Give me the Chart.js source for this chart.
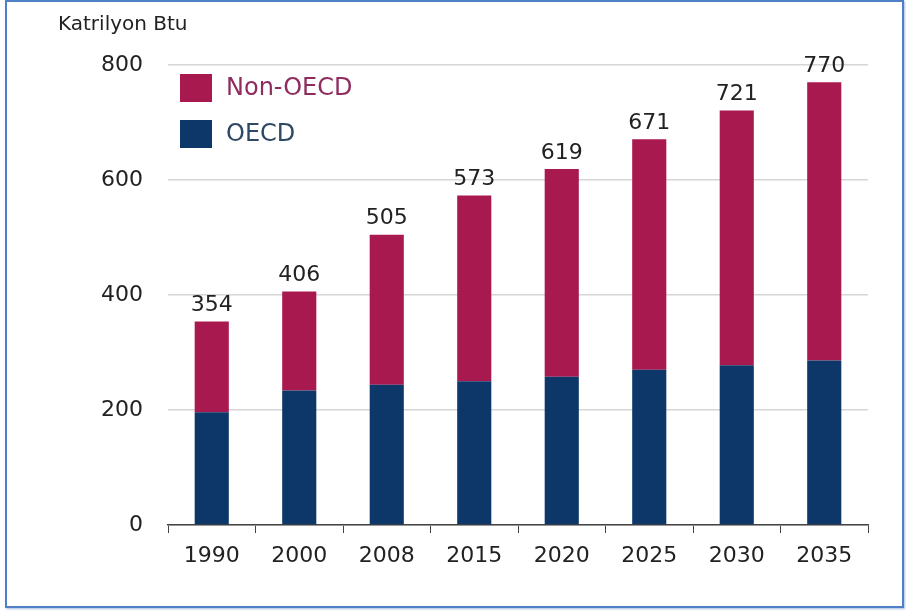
<!DOCTYPE html>
<html>
<head>
<meta charset="utf-8">
<script src="https://cdn.jsdelivr.net/npm/chart.js@4/dist/chart.umd.min.js"></script>
<style>
  html, body { margin: 0; padding: 0; background: #fff; }
  #wrap { position: relative; width: 906px; height: 612px; }
  #frame { position: absolute; left: 5px; top: 0px; width: 895px; height: 604px; border: 2px solid #4f80c6; box-shadow: 1px 1px 2px rgba(79,128,198,0.5); pointer-events: none; }
</style>
</head>
<body>
<div id="wrap">
  <canvas id="c" width="906" height="612"></canvas>
  <div id="frame"></div>
</div>
<script>
const categories = ['1990', '2000', '2008', '2015', '2020', '2025', '2030', '2035'];
const totals = [354, 406, 505, 573, 619, 671, 721, 770];
const oecd = [196, 234, 244, 250, 258, 270, 278, 286];
const nonOecd = [158, 172, 261, 323, 361, 401, 443, 484];
const yTicks = [0, 200, 400, 600, 800];
const unitLabel = 'Katrilyon Btu';

const FONT = '"DejaVu Sans", "Liberation Sans", Arial, sans-serif';

const totalLabels = {
  id: 'totalLabels',
  afterDatasetsDraw(chart) {
    const ctx = chart.ctx;
    const meta = chart.getDatasetMeta(1);
    ctx.save();
    ctx.font = '22px ' + FONT;
    ctx.fillStyle = '#222';
    ctx.textAlign = 'center';
    ctx.textBaseline = 'bottom';
    meta.data.forEach((bar, i) => {
      ctx.fillText(String(totals[i]), bar.x, bar.y - 5);
    });
    ctx.restore();
  }
};

const unitTitle = {
  id: 'unitTitle',
  afterDraw(chart) {
    const ctx = chart.ctx;
    ctx.save();
    ctx.font = '20px ' + FONT;
    ctx.fillStyle = '#222';
    ctx.textAlign = 'left';
    ctx.textBaseline = 'middle';
    ctx.fillText(unitLabel, 58, 25);
    ctx.restore();
  }
};

const insetLegend = {
  id: 'insetLegend',
  afterDraw(chart) {
    const ctx = chart.ctx;
    const area = chart.chartArea;
    const items = chart.data.datasets.slice().reverse();
    ctx.save();
    ctx.font = '24px ' + FONT;
    ctx.textAlign = 'left';
    ctx.textBaseline = 'middle';
    items.forEach((ds, i) => {
      const top = area.top + 9 + i * 46;
      ctx.fillStyle = ds.backgroundColor;
      ctx.fillRect(area.left + 12, top, 32, 28);
      ctx.fillStyle = ds.textColor;
      ctx.fillText(ds.label, area.left + 58, top + 15);
    });
    ctx.restore();
  }
};

new Chart(document.getElementById('c'), {
  type: 'bar',
  data: {
    labels: categories,
    datasets: [
      { label: 'OECD', data: oecd, backgroundColor: '#0c3768', textColor: '#2f4863' },
      { label: 'Non-OECD', data: nonOecd, backgroundColor: '#a8194f', textColor: '#8e2c5e' }
    ]
  },
  options: {
    responsive: false,
    animation: false,
    layout: { padding: { left: 0, top: 65, right: 38, bottom: 0 } },
    datasets: { bar: { categoryPercentage: 1.0, barPercentage: 0.39 } },
    plugins: {
      tooltip: { enabled: false },
      legend: { display: false }
    },
    scales: {
      x: {
        stacked: true,
        afterFit(s) { s.height = 87; },
        grid: { offset: true, drawOnChartArea: false, drawTicks: true, tickLength: 8, color: '#444' },
        border: { display: true, color: '#444', width: 1.5 },
        ticks: { padding: 10, color: '#222', font: { size: 22, family: FONT } }
      },
      y: {
        stacked: true,
        min: 0,
        max: 800,
        afterFit(s) { s.width = 168; },
        afterBuildTicks(s) { s.ticks = yTicks.map(v => ({ value: v })); },
        grid: { drawTicks: false, color: '#d6d6d6', lineWidth: 1.5 },
        border: { display: false },
        ticks: { padding: 25, color: '#222', font: { size: 22, family: FONT } }
      }
    }
  },
  plugins: [totalLabels, unitTitle, insetLegend]
});
</script>
</body>
</html>
